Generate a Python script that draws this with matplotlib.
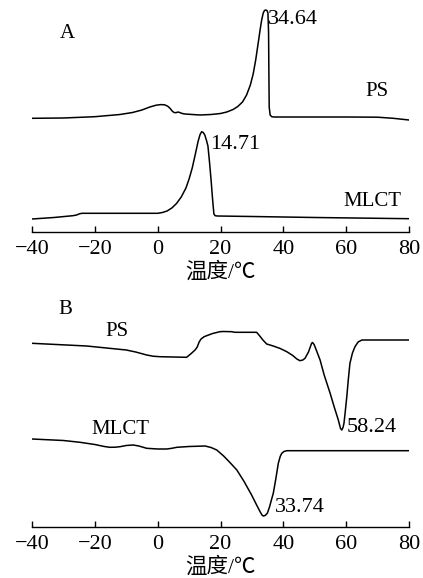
import matplotlib
matplotlib.use("Agg")
import matplotlib.pyplot as plt

plt.rcParams['font.family'] = ['Liberation Serif', 'Noto Sans CJK SC']
plt.rcParams['axes.unicode_minus'] = True

# panel A: cooling curves (temperature, signal in arbitrary units)
ps_a_t = [-40, -30, -20, -12, -8, -5, -2.5, -0.5, 1, 2.2, 3.2, 4, 4.6, 5.2, 5.8, 6.5,
          7.2, 7.8, 8.7, 11, 13.5, 17, 20, 22, 24, 25.5, 27, 28.3, 29.5, 30.4, 31.2,
          32, 32.6, 33.1, 33.6, 34.0, 34.4, 34.8, 35.1, 35.3, 35.4, 35.5, 35.8, 36.3,
          37, 50, 60, 70, 75, 80]
ps_a_h = [113.7, 114, 115.3, 117.5, 119.5, 122, 125, 126.8, 127.4, 127.2, 125.8, 123.5,
          121, 119.5, 119.3, 120, 119.3, 118.5, 118, 117.5, 117, 117.5, 118.5, 120, 122.5,
          125.5, 130, 137, 147, 158, 172, 189, 202, 212, 219, 221.5, 222, 221.5, 219, 200,
          160, 125, 117, 115.3, 115, 115, 115, 114.8, 113.7, 112]

mlct_a_t = [-40, -33, -27, -25.8, -24.8, -24, 0, 1.5, 3, 4.5, 6, 7.5, 9, 10, 11, 12,
            12.9, 13.5, 14, 14.5, 15, 15.5, 16, 16.5, 17, 17.5, 17.9, 18.3, 19, 30, 50, 80]
mlct_a_h = [13, 14.5, 16.3, 17, 18.3, 18.7, 18.7, 19.5, 21, 24, 28.5, 35, 44, 53, 64, 78,
            91, 97.5, 100.3, 99.5, 97, 92, 86, 70, 52, 32, 18, 16.3, 16, 15.5, 14.5, 13.3]

# panel B: heating curves
ps_b_t = [-40, -22.6, -10, -7, -5, -3.5, -1.5, 0.7, 5, 9.2, 10.5, 11.9, 12.6, 13.2, 13.8,
          14.8, 15.6, 17.5, 19.8, 21, 23.6, 24.6, 31.5, 32.5, 33.5, 34.7, 36.8, 39, 41.1,
          43, 44.3, 45.3, 46.2, 46.9, 48, 49.0, 49.3, 49.8, 50.6, 51.7, 53, 54.9, 56.2,
          57.5, 58.2, 58.6, 59, 59.3, 59.7, 60.2, 60.7, 61.2, 62, 62.8, 63.8, 65, 80]
ps_b_h = [183.7, 181, 177, 175, 173.3, 172, 170.8, 170.3, 170, 169.7, 173, 177, 180, 185,
          188, 190.3, 191.3, 193.5, 195.3, 195.5, 195.3, 194.7, 194.7, 191, 187, 183, 181,
          178.5, 175.3, 171.5, 168, 166.3, 167, 168.7, 175, 183.7, 184.5, 182.5, 176, 167,
          152, 133.7, 120, 107, 98.5, 97, 99.5, 103.7, 115, 130.3, 148, 163.7, 174, 180.3,
          185, 187, 187]

mlct_b_t = [-40, -30, -24.7, -20, -17, -15.2, -13.5, -12, -10, -7.8, -6, -3.5, 0, 2.9, 4.5,
            6.1, 10, 15.1, 17, 18.8, 21, 23, 25.2, 27.5, 29.9, 31.5, 32.6, 33.2, 33.6, 34.2,
            34.9, 35.6, 36.2, 36.8, 37.6, 38.4, 39, 39.5, 40.2, 41.1, 80]
mlct_b_h = [88, 86.5, 84.7, 82.5, 80.5, 79.7, 79.8, 80.3, 81.5, 82, 81, 78.7, 78, 78, 78.7,
            79.7, 80.5, 81, 79.5, 77, 71, 64.5, 57, 45.5, 32, 22, 15.3, 12, 11, 11.5,
            13.7, 20, 27, 33.7, 48, 63.7, 70.5, 73.7, 75.5, 76.3, 76.3]

xticks = [-40, -20, 0, 20, 40, 60, 80]
xlabel = "温度/℃"

fig = plt.figure(figsize=(4.23, 5.78), dpi=100)
ax_a = fig.add_axes([32 / 423, 1 - 232 / 578, 377 / 423, 232 / 578])
ax_b = fig.add_axes([32 / 423, 1 - 527 / 578, 377 / 423, 232 / 578])

for ax in (ax_a, ax_b):
    ax.set_xlim(-40, 80)
    ax.set_ylim(0, 232)
    for side in ("left", "right", "top"):
        ax.spines[side].set_visible(False)
    ax.spines["bottom"].set_linewidth(1.0)
    ax.set_yticks([])
    ax.set_xticks(xticks)
    ax.tick_params(axis="x", direction="in", length=4, width=1.0, labelsize=16, pad=6)
    ax.set_xlabel(xlabel, fontsize=15.5, labelpad=2)
    ax.patch.set_alpha(0)

ax_a.plot(ps_a_t, ps_a_h, color="black", lw=1.1)
ax_a.plot(mlct_a_t, mlct_a_h, color="black", lw=1.1)
ax_a.text(-28.9, 199, "A", fontsize=15, ha="center", va="center")
ax_a.text(35.1, 212, "34.64", fontsize=16, ha="left", va="center")
ax_a.text(69.8, 140, "PS", fontsize=15, ha="center", va="center")
ax_a.text(16.7, 87, "14.71", fontsize=16, ha="left", va="center")
ax_a.text(68.5, 30, "MLCT", fontsize=15, ha="center", va="center")

ax_b.plot(ps_b_t, ps_b_h, color="black", lw=1.1)
ax_b.plot(mlct_b_t, mlct_b_h, color="black", lw=1.1)
ax_b.text(-29.5, 217, "B", fontsize=15, ha="center", va="center")
ax_b.text(-12.9, 195, "PS", fontsize=15, ha="center", va="center")
ax_b.text(-12, 97, "MLCT", fontsize=15, ha="center", va="center")
ax_b.text(60.3, 100, "58.24", fontsize=16, ha="left", va="center")
ax_b.text(37.3, 19, "33.74", fontsize=16, ha="left", va="center")

fig.savefig("out.png", dpi=100)
